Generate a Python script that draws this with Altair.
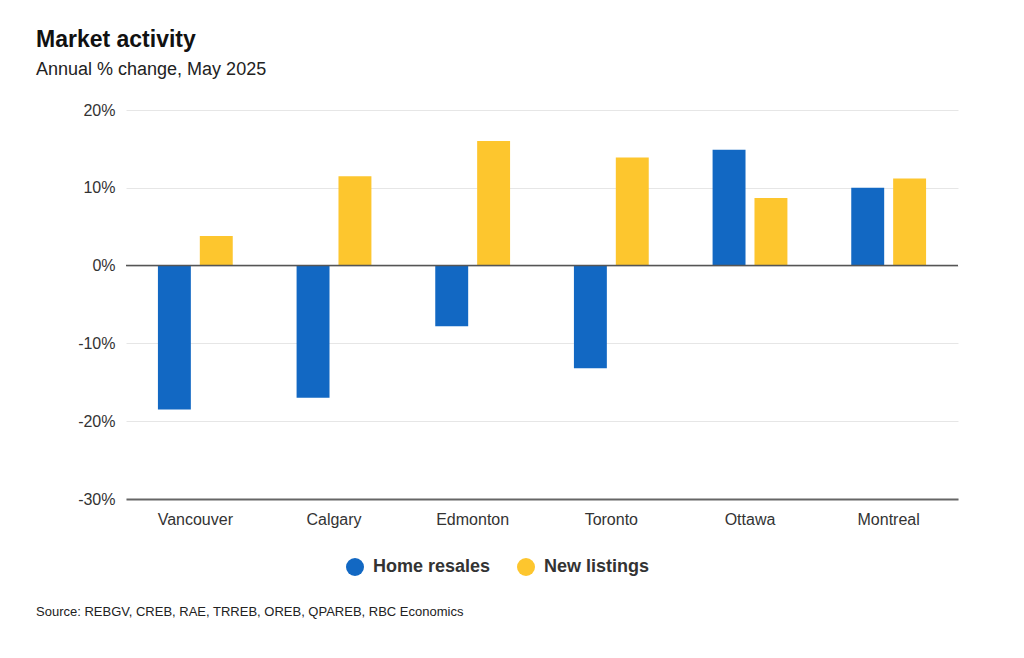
import altair as alt
import pandas as pd

# Annual % change in housing market activity, May 2025
cities = ["Vancouver", "Calgary", "Edmonton", "Toronto", "Ottawa", "Montreal"]
home_resales = [-18.5, -17.0, -7.8, -13.2, 14.9, 10.0]
new_listings = [3.8, 11.5, 16.0, 13.9, 8.7, 11.2]
series = ["Home resales", "New listings"]
colors = ["#1268c3", "#fdc62e"]
y_ticks = [-30, -20, -10, 0, 10, 20]

title_text = "Market activity"
subtitle_text = "Annual % change, May 2025"
source_text = "Source: REBGV, CREB, RAE, TRREB, OREB, QPAREB, RBC Economics"

FONT = "Liberation Sans"

rows = []
for city, r, l in zip(cities, home_resales, new_listings):
    rows.append({"city": city, "series": series[0], "value": r})
    rows.append({"city": city, "series": series[1], "value": l})
df = pd.DataFrame(rows)

bars = alt.Chart(df).mark_bar().encode(
    x=alt.X(
        "city:N",
        sort=cities,
        title=None,
        scale=alt.Scale(paddingInner=0.4, paddingOuter=0.2),
        axis=alt.Axis(
            labelAngle=0,
            ticks=False,
            grid=False,
            domainColor="#666666",
            domainWidth=2,
            labelFont=FONT,
            labelFontSize=16,
            labelColor="#333333",
            labelPadding=12,
        ),
    ),
    xOffset=alt.XOffset(
        "series:N",
        sort=series,
        scale=alt.Scale(paddingInner=0.214, paddingOuter=0.1),
    ),
    y=alt.Y(
        "value:Q",
        title=None,
        scale=alt.Scale(domain=[-30, 20], nice=False, zero=False),
        axis=alt.Axis(
            values=y_ticks,
            labelExpr="datum.value + '%'",
            ticks=False,
            domain=False,
            gridColor="#e6e6e6",
            gridWidth=1,
            labelFont=FONT,
            labelFontSize=16,
            labelColor="#333333",
            labelPadding=11,
        ),
    ),
    color=alt.Color(
        "series:N",
        sort=series,
        scale=alt.Scale(domain=series, range=colors),
        legend=alt.Legend(
            title=None,
            orient="none",
            direction="horizontal",
            legendX=220,
            legendY=448,
            padding=0,
            symbolType="circle",
            symbolSize=324,
            symbolStrokeWidth=0,
            labelFont=FONT,
            labelFontSize=18,
            labelFontWeight="bold",
            labelColor="#333333",
            labelOffset=9,
            columnPadding=26,
        ),
    ),
)

zero_line = alt.Chart(pd.DataFrame({"v": [0]})).mark_rule(
    color="#555555", strokeWidth=1.5
).encode(y="v:Q")

title = alt.Chart(pd.DataFrame({"t": [title_text]})).mark_text(
    align="left", baseline="alphabetic", font=FONT, fontSize=23,
    fontWeight="bold", color="#111111"
).encode(x=alt.value(-90), y=alt.value(-63), text="t:N")

subtitle = alt.Chart(pd.DataFrame({"t": [subtitle_text]})).mark_text(
    align="left", baseline="alphabetic", font=FONT, fontSize=18,
    color="#222222"
).encode(x=alt.value(-90), y=alt.value(-35), text="t:N")

source = alt.Chart(pd.DataFrame({"t": [source_text]})).mark_text(
    align="left", baseline="alphabetic", font=FONT, fontSize=13,
    color="#222222"
).encode(x=alt.value(-90), y=alt.value(506), text="t:N")

chart = alt.layer(bars, zero_line, title, subtitle, source).properties(
    width=832,
    height=389,
    autosize=alt.AutoSizeParams(type="none"),
    padding={"left": 126, "top": 110, "right": 66, "bottom": 159},
    background="white",
).configure_view(stroke=None)

chart.save("out.html", embed_options={"renderer": "svg", "actions": False})
